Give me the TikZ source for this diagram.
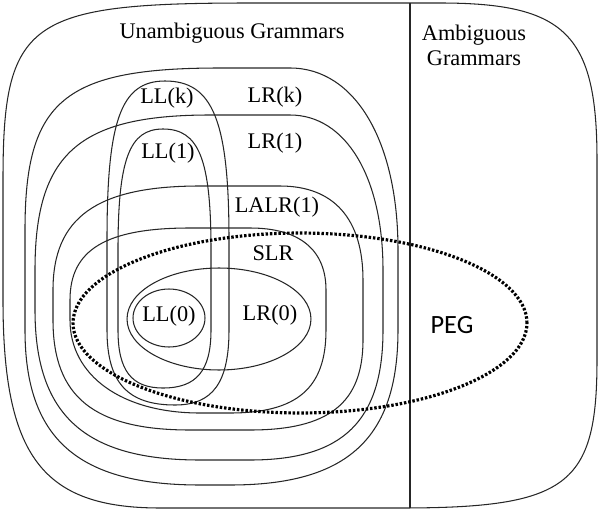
\documentclass[tikz,border=0pt]{standalone}
\usepackage{fontspec}
\setmainfont{Liberation Serif}
\newfontfamily\pegfont{Carlito}
\usepackage{tikz}

\tikzset{
  setline/.style={line width=0.6pt, draw=black!85},
  pegline/.style={line width=1.8pt, dash pattern=on 1.4pt off 1.05pt},
  setlabel/.style={font=\fontsize{12.7}{14.2}\selectfont, inner sep=0pt}
}

\begin{document}
\begin{tikzpicture}[x=0.02cm, y=-0.02cm]
\useasboundingbox (0,0) rectangle (600,511);

\draw[setline] (3,300) -- (3,180) .. controls (3,20.7) and (27.7,3) .. (250,3) -- (440,3) .. controls (565.6,3) and (597,34.4) .. (597,160) -- (597,360) .. controls (597,485.8) and (567.5,508) .. (400,508) -- (160,508) .. controls (42.25,508) and (3,456) .. cycle;
\coordinate (divtop) at (410,3);
\coordinate (divbot) at (410,508);
\draw[setline] (divtop) -- (divbot);

% LR(k), LR(1), LALR(1), SLR
\draw[setline] (25,330) -- (25,230) .. controls (25,100.4) and (64,68) .. (220,68) -- (290,68) .. controls (354.8,68) and (398,140.8) .. (398,250) -- (398,330) .. controls (398,438.5) and (347.6,485) .. (230,485) -- (200,485) .. controls (77.5,485) and (25,438.5) .. cycle;
\draw[setline] (35,310) -- (35,270) .. controls (35,153.75) and (78.75,115) .. (210,115) -- (290,115) .. controls (345.8,115) and (383,177) .. (383,270) -- (383,330) .. controls (383,421) and (343.1,460) .. (250,460) -- (200,460) .. controls (84.5,460) and (35,415) .. cycle;
\draw[setline] (53,320) -- (53,290) .. controls (53,217.2) and (97.1,186) .. (200,186) -- (280,186) .. controls (334,186) and (363,219) .. (363,280) -- (363,340) .. controls (363,403) and (329.1,430) .. (250,430) -- (190,430) .. controls (94.1,430) and (53,397) .. cycle;
\draw[setline] (70,320) -- (70,300) .. controls (70,249.6) and (106,228) .. (190,228) -- (250,228) .. controls (299.4,228) and (326,249.7) .. (326,290) -- (326,330) .. controls (326,388.1) and (297.2,413) .. (230,413) -- (200,413) .. controls (122,413) and (70,375.8) .. cycle;

% LL(k), LL(1)
\draw[setline] (107,330) -- (107,240) .. controls (107,121.25) and (120.5,81) .. (165,81) .. controls (213,81) and (229,120.75) .. (229,240) -- (229,330) .. controls (229,382.5) and (212.8,405) .. (175,405) .. controls (127.4,405) and (107,382.5) .. cycle;
\draw[setline] (118,330) -- (118,250) .. controls (118,159.25) and (129.25,129) .. (163,129) .. controls (199,129) and (211,159.25) .. (211,250) -- (211,330) .. controls (211,370.6) and (196.6,388) .. (163,388) .. controls (131.5,388) and (118,370.6) .. cycle;

\draw[setline] (219,319) ellipse [x radius=1.84cm, y radius=1.02cm];
\draw[setline] (169,318) ellipse [x radius=0.72cm, y radius=0.58cm];
\draw[pegline] (300,323) ellipse [x radius=4.54cm, y radius=1.8cm];

\node[setlabel] (unamb) at (232,33) {Unambiguous Grammars};
\node[setlabel, align=center] (amb) at (474,45) {Ambiguous\\Grammars};
\node[setlabel] (llk) at (167,98) {LL(k)};
\node[setlabel] (lrk) at (275,97) {LR(k)};
\node[setlabel] (ll1) at (168,153) {LL(1)};
\node[setlabel] (lr1) at (275,143) {LR(1)};
\node[setlabel] (lalr) at (277,207) {LALR(1)};
\node[setlabel] (slr) at (273,253) {SLR};
\node[setlabel] (ll0) at (169,316) {LL(0)};
\node[setlabel] (lr0) at (270,315) {LR(0)};
\node[font=\pegfont\fontsize{15}{17}\selectfont] (peg) at (452,325) {PEG};
\end{tikzpicture}
\end{document}
